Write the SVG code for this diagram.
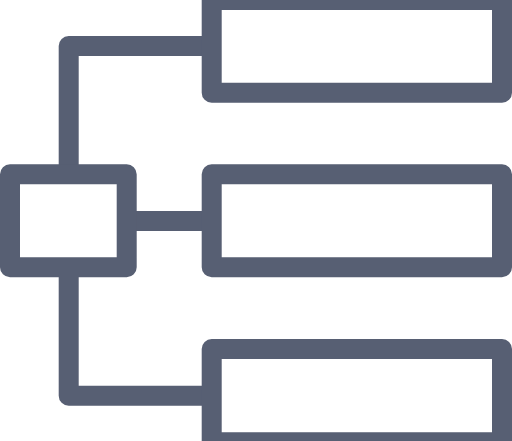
<svg xmlns="http://www.w3.org/2000/svg" width="512" height="441" viewBox="0 0 512 441">
  <style>
    .n { fill: #ffffff; stroke: #575f73; stroke-width: 20; stroke-linejoin: round; }
    .c { fill: none; stroke: #575f73; stroke-width: 20; stroke-linejoin: round; stroke-linecap: butt; }
  </style>
  <rect width="512" height="441" fill="#ffffff"/>
  <g id="connectors">
    <path class="c" d="M68.7 174.3 V46 H211.7"/>
    <path class="c" d="M126.7 221 H211.7"/>
    <path class="c" d="M68.7 267.3 V395.7 H211.7"/>
  </g>
  <g id="root"><rect class="n" x="10" y="174.3" width="116.7" height="93"/></g>
  <g id="child-top"><rect class="n" x="211.7" y="0" width="290.3" height="92.7"/></g>
  <g id="child-middle"><rect class="n" x="211.7" y="174.3" width="290.3" height="93"/></g>
  <g id="child-bottom"><rect class="n" x="211.7" y="349" width="290.3" height="93.3"/></g>
</svg>
